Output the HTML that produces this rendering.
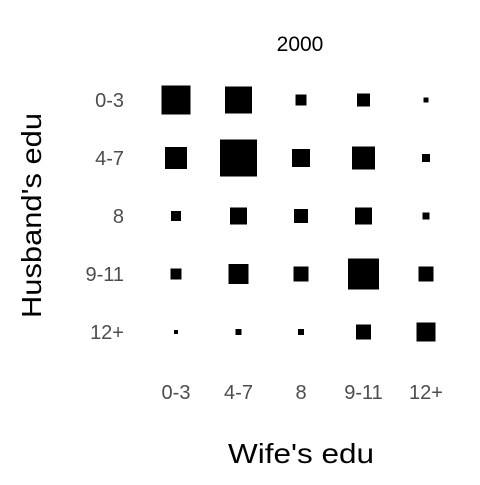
<!DOCTYPE html>
<html><head><meta charset="utf-8"><style>
body{margin:0;background:#fff}
svg text{font-family:"Liberation Sans",Arial,sans-serif}
</style></head><body>
<svg id="chart" width="480" height="480">
<text x="300" y="51" text-anchor="middle" font-size="21" fill="#000">2000</text>
<text x="301" y="463" text-anchor="middle" font-size="28" textLength="146" lengthAdjust="spacingAndGlyphs" fill="#000">Wife's edu</text>
<text transform="translate(41,215.5) rotate(-90)" text-anchor="middle" font-size="28" textLength="205" lengthAdjust="spacingAndGlyphs" fill="#000">Husband's edu</text>
<g id="marks"></g>
</svg>
<script>
const wifeCats = ["0-3","4-7","8","9-11","12+"];
const husbandCats = ["0-3","4-7","8","9-11","12+"];
// values per husband row (area-proportional counts)
const row0 = [841,729,121,169,25];
const row1 = [484,1369,324,529,64];
const row2 = [100,289,196,289,49];
const row3 = [121,400,225,961,225];
const row4 = [16,36,36,225,361];
const values = [row0,row1,row2,row3,row4];

const svg = document.getElementById('chart');
const g = document.getElementById('marks');
const NS = "http://www.w3.org/2000/svg";
function xPos(i){return 176 + i*62.5;}
function yPos(j){return 100 + j*58;}
function side(v){return Math.sqrt(v);}

wifeCats.forEach((c,i)=>{
  const t=document.createElementNS(NS,'text');
  t.setAttribute('x',xPos(i));t.setAttribute('y',399);
  t.setAttribute('text-anchor','middle');t.setAttribute('font-size','20');t.setAttribute('fill','#4d4d4d');
  t.textContent=c;
  
  
  svg.appendChild(t);
});
husbandCats.forEach((c,j)=>{
  const t=document.createElementNS(NS,'text');
  t.setAttribute('x',124);t.setAttribute('y',yPos(j)+7);
  t.setAttribute('text-anchor','end');t.setAttribute('font-size','20');t.setAttribute('fill','#4d4d4d');
  t.textContent=c;
  
  
  svg.appendChild(t);
});
values.forEach((row,j)=>{
  row.forEach((v,i)=>{
    const s=side(v);
    const r=document.createElementNS(NS,'rect');
    r.setAttribute('x',xPos(i)-s/2);r.setAttribute('y',yPos(j)-s/2);
    r.setAttribute('width',s);r.setAttribute('height',s);r.setAttribute('fill','#000');
    
    
    g.appendChild(r);
  });
});
</script>
</body></html>
